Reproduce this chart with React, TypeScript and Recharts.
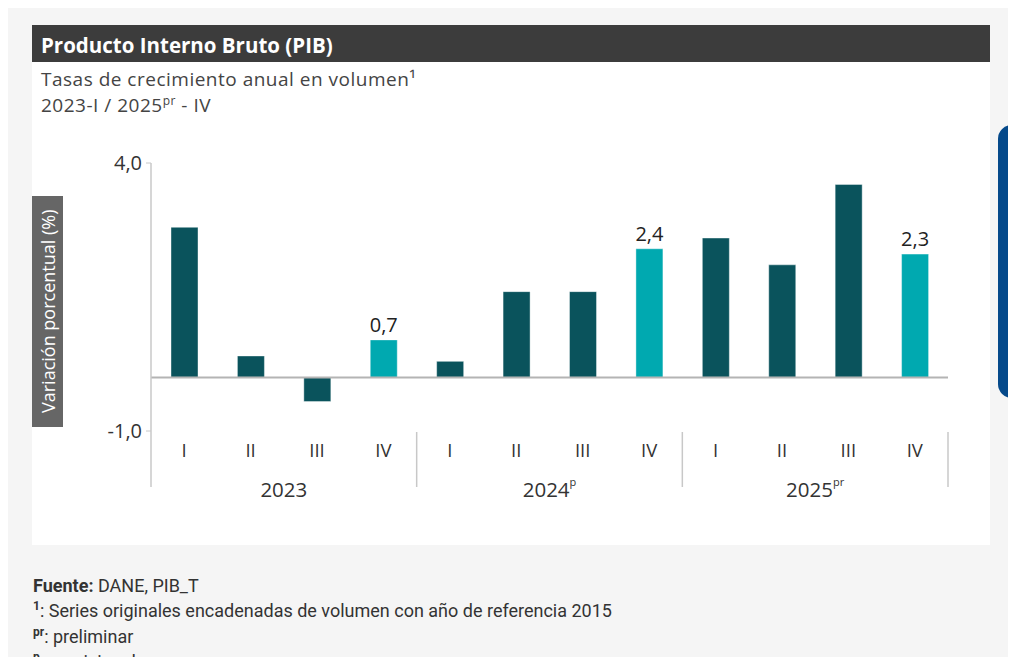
import { BarChart, Bar, XAxis, YAxis, Cell, LabelList, ReferenceLine } from 'recharts';

const quarters = ['I', 'II', 'III', 'IV', 'I', 'II', 'III', 'IV', 'I', 'II', 'III', 'IV'];
const years = ['2023', '2023', '2023', '2023', '2024', '2024', '2024', '2024', '2025', '2025', '2025', '2025'];
const yearNames = ['2023', '2024', '2025'];
const yearSups = ['', 'p', 'pr'];
const growth = [2.8, 0.4, -0.45, 0.7, 0.3, 1.6, 1.6, 2.4, 2.6, 2.1, 3.6, 2.3];
const labelled = [false, false, false, true, false, false, false, true, false, false, false, true];
const yTicks = [-1, 4];

const DARK = '#0a535c';
const LIGHT = '#00a9b0';
const FONT = '"Open Sans", "DejaVu Sans", sans-serif';

const data = quarters.map((q, i) => ({
  q,
  yr: years[i],
  v: growth[i],
  hl: labelled[i],
}));

const fmt = (v: number) => v.toFixed(1).replace('.', ',');

const QuarterTick = (props: any) => {
  const { x, y, payload } = props;
  return (
    <text x={x} y={y} dy={18} textAnchor="middle" dominantBaseline="central" fontSize={18.5} fill="#333" fontFamily={FONT}>
      {payload.value}
    </text>
  );
};

const YearTick = (props: any) => {
  const { x, y, payload, index } = props;
  const half = payload?.offset || 797 / 24;
  const yi = yearNames.indexOf(payload.value);
  return (
    <g>
      {index % 4 === 0 && (
        <line x1={x - half} x2={x - half} y1={index === 0 ? y - 30 : y - 29} y2={y + 26} stroke="#c8c8c8" strokeWidth={1.5} />
      )}
      {index === quarters.length - 1 && (
        <line x1={x + half} x2={x + half} y1={y - 29} y2={y + 26} stroke="#c8c8c8" strokeWidth={1.5} />
      )}
      {index % 4 === 1 && (
        <text x={x + half} y={y} dy={28} textAnchor="middle" dominantBaseline="central" fontSize={20.5} fill="#333" fontFamily={FONT}>
          {payload.value}
          {yearSups[yi] && (
            <tspan fontSize={11} dy={-8}>
              {yearSups[yi]}
            </tspan>
          )}
        </text>
      )}
    </g>
  );
};

const ValueLabel = (props: any) => {
  const { x, y, width, value, index } = props;
  if (!data[index]?.hl) return null;
  return (
    <text x={x + width / 2} y={y} dy={-8} textAnchor="middle" fontSize={20} fill="#222" fontFamily={FONT}>
      {fmt(value)}
    </text>
  );
};

const supStyle = { fontSize: 12, fontWeight: 700, verticalAlign: 'top', lineHeight: '17px' } as const;

export default function App() {
  return (
    <div style={{ position: 'relative', width: 1016, height: 665, margin: -8, background: '#f5f5f5', overflow: 'hidden', fontFamily: FONT }}>
      <div style={{ position: 'absolute', left: 32, top: 25, width: 958, height: 520, background: '#fff' }} />
      <div
        style={{
          position: 'absolute',
          left: 32,
          top: 25,
          width: 958,
          height: 37,
          overflow: 'hidden',
          background: '#3c3c3c',
          color: '#fff',
          fontWeight: 700,
          fontSize: 20.5,
          lineHeight: '40px',
          paddingLeft: 9,
          boxSizing: 'border-box',
          whiteSpace: 'nowrap',
        }}
      >
        Producto Interno Bruto (PIB)
      </div>
      <div style={{ position: 'absolute', left: 41, top: 66, fontSize: 19, lineHeight: '26px', letterSpacing: 0.5, color: '#444', whiteSpace: 'nowrap' }}>
        <div>Tasas de crecimiento anual en volumen¹</div>
        <div>
          2023-I / 2025<sup style={{ fontSize: 12, verticalAlign: 'top', lineHeight: '18px' }}>pr</sup> - IV
        </div>
      </div>
      <div
        style={{
          position: 'absolute',
          left: 32,
          top: 196,
          width: 31,
          height: 231,
          background: '#666',
          color: '#fff',
          fontSize: 18,
          display: 'flex',
          alignItems: 'center',
          justifyContent: 'center',
          writingMode: 'vertical-rl',
          transform: 'rotate(180deg)',
          whiteSpace: 'nowrap',
        }}
      >
        Variación porcentual (%)
      </div>
      <div style={{ position: 'absolute', left: 998, top: 125, width: 40, height: 273, background: '#05498a', borderRadius: 14 }} />

      <div style={{ position: 'absolute', left: 0, top: 0 }}>
        <BarChart width={1016} height={665} data={data} margin={{ top: 163, right: 68, bottom: 164, left: 91 }}>
          <YAxis
            type="number"
            domain={[-1, 4]}
            ticks={yTicks}
            interval={0}
            width={60}
            allowDataOverflow
            axisLine={{ stroke: '#c8c8c8', strokeWidth: 1.5 }}
            tickLine={{ stroke: '#c8c8c8' }}
            tickSize={5}
            tickMargin={4}
            tickFormatter={fmt}
            tick={{ fontSize: 20, fill: '#333', fontFamily: FONT }}
          />
          <XAxis dataKey="q" height={30} interval={0} tickSize={0} tickMargin={0} axisLine={false} tickLine={false} tick={<QuarterTick />} />
          <XAxis xAxisId="yr" dataKey="yr" height={40} interval={0} tickSize={0} tickMargin={0} axisLine={false} tickLine={false} tick={<YearTick />} />
          <Bar dataKey="v" barSize={27} isAnimationActive={false} stroke="rgba(255,255,255,0.4)" strokeWidth={1}>
            {data.map((d, i) => (
              <Cell key={i} fill={d.hl ? LIGHT : DARK} />
            ))}
            <LabelList dataKey="v" content={<ValueLabel />} />
          </Bar>
          <ReferenceLine y={0} stroke="#b4b4b4" strokeWidth={2} />
        </BarChart>
      </div>

      <div style={{ position: 'absolute', left: 33, top: 573, fontFamily: 'Roboto, sans-serif', fontSize: 18, lineHeight: '25.3px', color: '#333', whiteSpace: 'nowrap' }}>
        <div>
          <span style={{ fontWeight: 700 }}>Fuente:</span> DANE, PIB_T
        </div>
        <div>
          <sup style={supStyle}>1</sup>: Series originales encadenadas de volumen con año de referencia 2015
        </div>
        <div>
          <sup style={supStyle}>pr</sup>: preliminar
        </div>
        <div>
          <sup style={supStyle}>p</sup>: provisional
        </div>
      </div>
    </div>
  );
}
